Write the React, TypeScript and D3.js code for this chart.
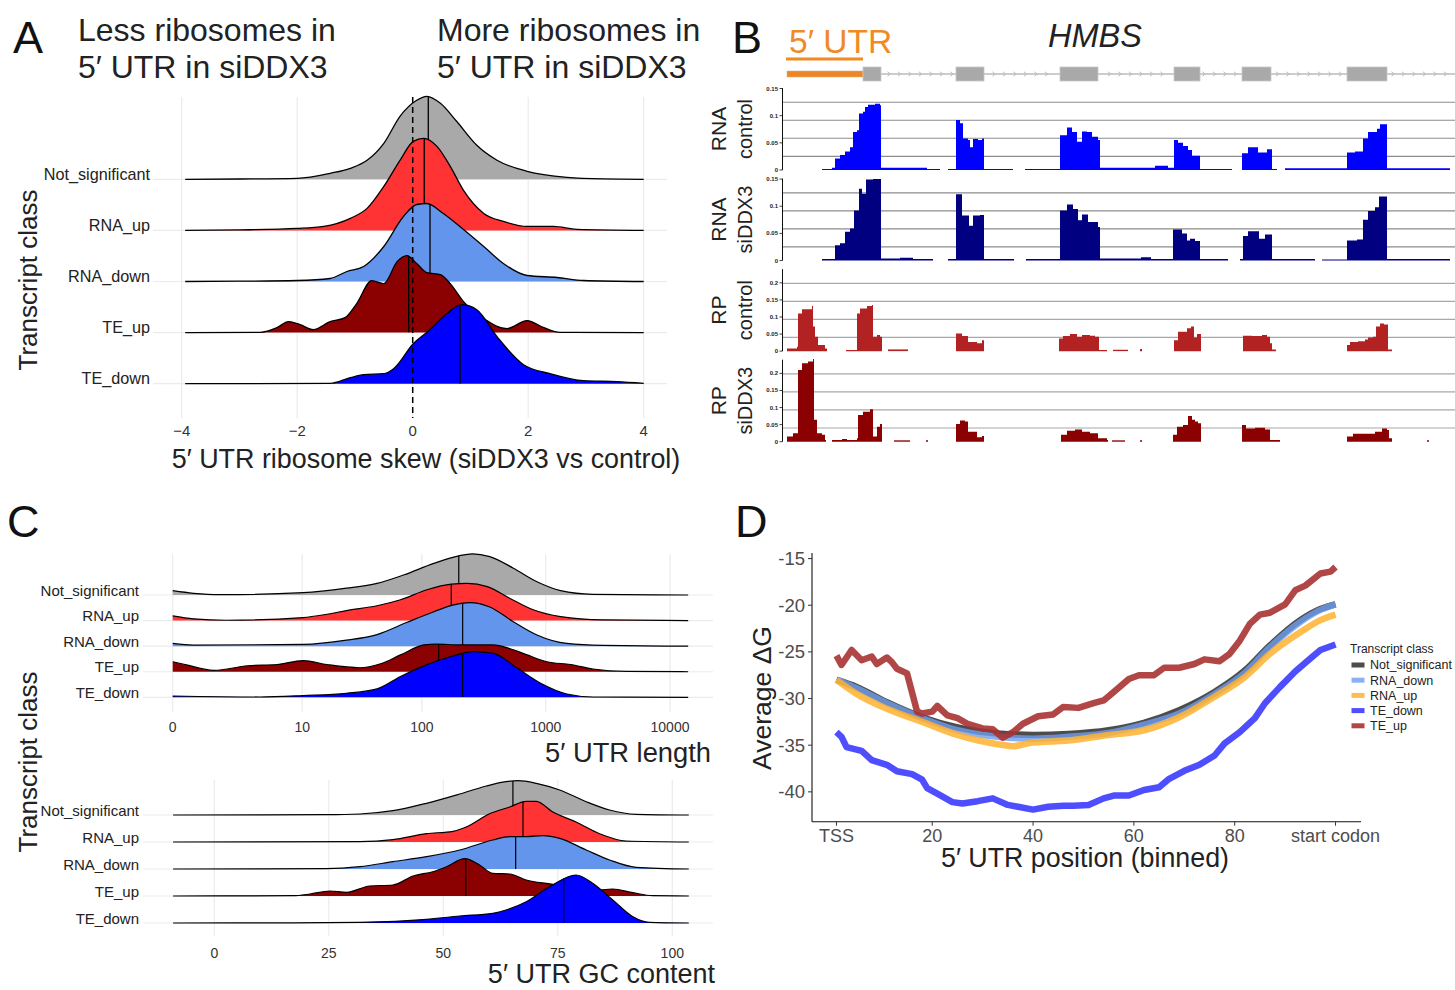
import React from "react";
import * as d3 from "d3";

type Pt = [number, number];
const FONT = "'Liberation Sans', Arial, Helvetica, sans-serif";

const CLASSES = ["Not_significant", "RNA_up", "RNA_down", "TE_up", "TE_down"];
const RIDGE_FILL = ["#A9A9A9", "#FF3333", "#6495ED", "#8B0000", "#0000FF"];

// ---------------- Panel A: 5' UTR ribosome skew densities ----------------
const skewTicks = [-4, -2, 0, 2, 4];
const skewNotSig: Pt[] = [[-3.94,0],[-3,0.003],[-2,0.01],[-1.43,0.06],[-1.08,0.11],[-0.79,0.19],[-0.5,0.36],[-0.22,0.63],[0.07,0.79],[0.245,0.83],[0.48,0.76],[0.76,0.58],[1.11,0.34],[1.46,0.19],[1.98,0.08],[2.67,0.02],[3.3,0.004],[4,0]];
const skewRnaUp: Pt[] = [[-3.94,0],[-3,0.005],[-2,0.02],[-1.54,0.04],[-1.08,0.12],[-0.79,0.22],[-0.5,0.44],[-0.22,0.7],[0.01,0.89],[0.19,0.92],[0.42,0.84],[0.65,0.64],[0.88,0.4],[1.23,0.17],[1.57,0.09],[1.98,0.04],[2.44,0.04],[2.84,0.01],[4,0]];
const skewRnaDown: Pt[] = [[-3.94,0],[-3,0.003],[-2,0.01],[-1.43,0.03],[-1.14,0.1],[-0.85,0.15],[-0.5,0.35],[-0.16,0.65],[0.07,0.77],[0.245,0.78],[0.53,0.68],[0.88,0.52],[1.23,0.35],[1.57,0.18],[1.98,0.06],[2.5,0.04],[2.96,0.01],[4,0]];
const skewTeUp: Pt[] = [[-3.94,0],[-2.64,0.003],[-2.35,0.05],[-2.15,0.11],[-1.95,0.08],[-1.72,0.03],[-1.43,0.11],[-1.17,0.15],[-0.97,0.29],[-0.71,0.52],[-0.5,0.49],[-0.27,0.71],[-0.1,0.77],[0.07,0.69],[0.245,0.6],[0.48,0.58],[0.65,0.49],[0.88,0.31],[1.23,0.14],[1.63,0.04],[1.98,0.12],[2.27,0.05],[2.55,0.003],[4,0]];
const skewTeDown: Pt[] = [[-3.94,0],[-1.43,0.003],[-1.08,0.06],[-0.85,0.09],[-0.5,0.1],[-0.33,0.15],[0.01,0.4],[0.3,0.54],[0.59,0.7],[0.85,0.79],[1.11,0.74],[1.46,0.47],[1.92,0.19],[2.38,0.1],[2.96,0.03],[3.54,0.02],[4,0.003]];
const skewMedians = [0.27, 0.2, 0.3, -0.07, 0.82];

// ---------------- Panel C top: 5' UTR length densities ----------------
const lengthTicks = [0, 10, 100, 1000, 10000];
const lenNotSig: Pt[] = [[0,0.108],[0.47,0.043],[1.4,0.008],[10.2,0.058],[24,0.17],[43,0.29],[71,0.5],[125,0.79],[199,0.98],[256,1.03],[354,0.96],[549,0.67],[850,0.33],[1317,0.11],[2398,0.018],[14000,0]];
const lenRnaUp: Pt[] = [[0,0.118],[0.47,0.043],[1.69,0.008],[10.2,0.075],[16.4,0.158],[24,0.25],[43,0.37],[67,0.52],[110,0.77],[173,0.91],[233,0.93],[338,0.85],[512,0.56],[793,0.27],[1317,0.1],[2883,0.018],[14000,0]];
const lenRnaDown: Pt[] = [[0,0.068],[0.47,0.025],[10.2,0.043],[24,0.15],[43,0.29],[75,0.59],[125,0.86],[181,1.03],[245,1.09],[354,0.98],[549,0.61],[850,0.28],[1478,0.068],[2883,0.018],[14000,0]];
const lenTeUp: Pt[] = [[0,0.25],[0.29,0.17],[1.14,0.033],[3,0.15],[5.9,0.18],[10.2,0.28],[16.4,0.18],[31,0.1],[46,0.2],[67,0.42],[104,0.67],[131,0.69],[203,0.67],[379,0.67],[512,0.58],[707,0.42],[1022,0.25],[1584,0.18],[2398,0.068],[4466,0.008],[14000,0]];
const lenTeDown: Pt[] = [[0,0.033],[4,0.008],[10.2,0.043],[24,0.1],[43,0.21],[67,0.52],[109,0.81],[173,1.02],[262,1.14],[379,1.1],[588,0.73],[911,0.35],[1478,0.083],[2398,0.008],[14000,0]];
const lenMedians = [199, 173, 214, 137, 214];

// ---------------- Panel C bottom: 5' UTR GC content densities ----------------
const gcTicks = [0, 25, 50, 75, 100];
const gcNotSig: Pt[] = [[-9,0],[24.5,0.0003],[31.8,0.001],[39,0.0043],[46.3,0.0117],[53.6,0.021],[59.4,0.029],[63.7,0.0333],[66.3,0.0343],[70.3,0.0317],[75.4,0.025],[81.2,0.0133],[86.3,0.005],[92.1,0.0007],[103.6,0]];
const gcRnaUp: Pt[] = [[-9,0],[31.8,0.0003],[39,0.0023],[46.3,0.0083],[52.1,0.0107],[55,0.015],[60.1,0.0283],[64.5,0.035],[68.1,0.0407],[70.3,0.0407],[73.9,0.03],[79,0.02],[84.1,0.0083],[89.9,0.001],[103.6,0]];
const gcRnaDown: Pt[] = [[-9,0],[24.5,0.0003],[31.8,0.0023],[39,0.0073],[46.3,0.0123],[53.6,0.019],[60.8,0.029],[64.5,0.0323],[68.1,0.0323],[71.7,0.0333],[75.4,0.0307],[81.2,0.019],[86.3,0.009],[92.1,0.0017],[103.6,0]];
const gcTeUp: Pt[] = [[-9,0],[17.2,0.0003],[20.9,0.002],[25.2,0.005],[28.9,0.0037],[33.9,0.01],[39,0.011],[43.4,0.02],[47.7,0.0243],[50.7,0.0293],[54.7,0.0373],[57.9,0.031],[60.8,0.0227],[64.5,0.022],[68.1,0.016],[73.9,0.0117],[79,0.0067],[82.6,0.0053],[87,0.007],[91.4,0.0033],[95.7,0.0003],[103.6,0]];
const gcTeDown: Pt[] = [[-9,0],[17.2,0.0001],[31.8,0.0007],[46.3,0.0037],[53.6,0.007],[60.8,0.0097],[63.7,0.013],[68.1,0.0213],[73.2,0.0363],[79,0.048],[82.6,0.0397],[87,0.023],[91.4,0.0063],[95,0.0007],[103.6,0]];
const gcMedians = [65.2, 67.4, 65.8, 54.9, 76.3];

// ---------------- Panel D: average dG along 5' UTR ----------------
const dgClasses = ["Not_significant", "RNA_down", "RNA_up", "TE_down", "TE_up"];
const dgColors = ["#333333", "#6f9ef0", "#ffb22e", "#3b3bff", "#a83232"];
const dgOpacity = [0.88, 0.8, 0.85, 0.9, 0.9];
const dgTicksY = [-15, -20, -25, -30, -35, -40];
const dgTicksX = [1, 20, 40, 60, 80, 100];
const dgTickLabelsX = ["TSS", "20", "40", "60", "80", "start codon"];
const dgNotSig: Pt[] = [[1,-28.0],[5,-28.75],[11,-30.4],[18,-32],[25,-33.1],[33,-33.75],[40,-33.9],[47,-33.8],[55,-33.4],[62,-32.6],[69,-31.25],[76,-29.3],[82,-27],[87,-24.3],[93,-21.6],[97,-20.4],[100,-19.9]];
const dgRnaDown: Pt[] = [[1,-27.95],[5,-28.9],[11,-30.5],[18,-32.1],[25,-33.4],[33,-34.1],[40,-34.3],[47,-34.1],[55,-33.7],[62,-32.8],[69,-31.6],[76,-29.5],[82,-27.25],[87,-24.5],[93,-21.8],[97,-20.5],[100,-19.9]];
const dgRnaUp: Pt[] = [[1,-28.0],[5,-29.5],[11,-31.1],[18,-32.5],[25,-33.9],[33,-34.9],[36,-35.1],[40,-34.7],[47,-34.5],[55,-33.9],[62,-33.4],[69,-32],[76,-29.8],[82,-27.7],[87,-25.2],[93,-22.9],[97,-21.6],[100,-21]];
const dgTeDown: Pt[] = [[1,-33.6],[2,-34.1],[3,-35.2],[6,-35.6],[8,-36.6],[11,-37.1],[13,-37.8],[16,-38.1],[18,-38.7],[19,-39.6],[21,-40.2],[24,-41.1],[26,-41.25],[29,-41.0],[32,-40.7],[35,-41.4],[37,-41.6],[40,-41.9],[43,-41.6],[46,-41.5],[48,-41.5],[51,-41.4],[54,-40.7],[56,-40.4],[59,-40.4],[62,-39.8],[65,-39.5],[67,-38.6],[70,-37.75],[73,-37.1],[76,-36.1],[78,-34.8],[81,-33.6],[84,-32.1],[86,-30.5],[89,-28.75],[92,-27.1],[95,-25.7],[97,-24.8],[100,-24.2]];
const dgTeUp: Pt[] = [[1,-25.4],[2,-26.4],[4,-24.8],[6,-25.9],[8,-25.5],[9,-26.3],[11,-25.6],[12,-26.1],[13,-26.8],[15,-27.3],[17,-31.4],[18,-31.6],[20,-31.4],[21,-30.8],[23,-31.8],[25,-32.1],[27,-32.7],[30,-33.2],[32,-33.3],[34,-34.2],[36,-33.6],[38,-32.7],[41,-31.9],[44,-31.7],[46,-30.9],[49,-31.0],[52,-30.5],[54,-30.2],[56,-29.3],[59,-27.9],[61,-27.5],[64,-27.5],[66,-26.7],[69,-26.7],[72,-26.3],[74,-25.8],[77,-26.0],[79,-25.2],[81,-23.8],[83,-22.0],[85,-21.0],[87,-20.8],[90,-19.9],[92,-18.4],[94,-17.9],[97,-16.6],[99,-16.4],[100,-15.9]];

// ---------------- Panel B: HMBS genome browser ----------------
const utrSpan: Pt = [4, 80];
const exons: Pt[] = [[80,98],[173,201],[277,315],[391,417],[459,488],[564,604]];
const trackTitles = [["RNA", "control"], ["RNA", "siDDX3"], ["RP", "control"], ["RP", "siDDX3"]];
const trackColors = ["#0000FF", "#000080", "#B22222", "#8B0000"];
const rnaTicks = [0, 0.05, 0.1, 0.15];
const rpTicks = [0, 0.05, 0.1, 0.15, 0.2];
const rnaControlCov: Pt[][] = [
  [[39,0.002],[49,0.004],[52,0.021],[57,0.0275],[62,0.034],[67,0.042],[70,0.07],[74,0.073],[76,0.104],[80,0.107],[82,0.116],[85,0.12],[92,0.122],[97,0.119],[98,0.004],[144,0.002],[157,0]],
  [[165,0.002],[173,0.092],[177,0.086],[180,0.058],[185,0.055],[187,0.042],[190,0.057],[195,0.055],[199,0.058],[201,0.002],[230,0]],
  [[242,0.002],[277,0.064],[284,0.078],[289,0.07],[294,0.052],[299,0.071],[304,0.07],[309,0.061],[315,0.055],[317,0.004],[372,0.008],[385,0.004],[391,0.055],[395,0.05],[400,0.044],[405,0.037],[409,0.026],[417,0.002],[449,0]],
  [[459,0.031],[465,0.042],[475,0.032],[484,0.038],[489,0.002],[494,0]],
  [[502,0.003],[564,0.032],[572,0.034],[580,0.058],[585,0.07],[594,0.076],[597,0.084],[604,0.003],[667,0]],
];
const rnaSiCov: Pt[][] = [
  [[39,0.003],[52,0.028],[57,0.032],[62,0.053],[67,0.059],[71,0.092],[76,0.132],[79,0.123],[83,0.149],[90,0.15],[97,0.15],[98,0.004],[117,0.005],[130,0.003],[150,0]],
  [[165,0.003],[173,0.122],[179,0.083],[186,0.064],[190,0.083],[197,0.084],[201,0.003],[231,0]],
  [[243,0.003],[277,0.092],[284,0.103],[290,0.095],[295,0.074],[299,0.085],[305,0.071],[315,0.062],[317,0.004],[358,0.006],[368,0.003],[390,0.057],[399,0.05],[404,0.037],[407,0.04],[412,0.036],[417,0.003],[445,0]],
  [[457,0.003],[460,0.045],[465,0.054],[476,0.04],[482,0.048],[489,0.003],[532,0]],
  [[539,0.002],[564,0.037],[574,0.039],[580,0.075],[585,0.091],[592,0.098],[596,0.118],[604,0.003],[667,0]],
];
const rpControlCov: Pt[][] = [
  [[4,0.008],[14,0.013],[15,0.11],[19,0.123],[24,0.123],[29,0.132],[30,0.072],[32,0.042],[35,0.018],[42,0.008],[44,0]],
  [[63,0.003],[74,0.11],[77,0.125],[84,0.132],[89,0.135],[90,0.042],[94,0.047],[97,0.042],[99,0]],
  [[105,0.005],[125,0]],
  [[173,0.052],[179,0.044],[185,0.027],[194,0.023],[199,0.032],[201,0]],
  [[276,0.037],[280,0.044],[287,0.05],[294,0.042],[299,0.047],[307,0.045],[312,0.042],[316,0.003],[324,0]],
  [[330,0.004],[345,0]],
  [[357,0.006],[359,0]],
  [[391,0.032],[395,0.057],[404,0.067],[408,0.072],[411,0.04],[414,0.05],[418,0]],
  [[460,0.045],[469,0.044],[479,0.047],[484,0.042],[487,0.023],[489,0.005],[493,0]],
  [[564,0.018],[567,0.027],[575,0.029],[582,0.034],[585,0.04],[590,0.042],[593,0.072],[597,0.081],[601,0.078],[605,0.005],[609,0]],
];
const rpSiCov: Pt[][] = [
  [[4,0.015],[10,0.025],[15,0.21],[19,0.23],[25,0.235],[30,0.242],[31,0.064],[34,0.025],[39,0.02],[42,0.005],[43,0]],
  [[49,0.005],[59,0.008],[64,0.005],[74,0.01],[75,0.078],[80,0.088],[87,0.095],[90,0.015],[94,0.044],[97,0.052],[99,0]],
  [[111,0.004],[127,0]],
  [[143,0.004],[145,0]],
  [[173,0.052],[177,0.062],[182,0.059],[185,0.029],[194,0.013],[199,0.017],[201,0]],
  [[278,0.02],[284,0.032],[292,0.036],[299,0.029],[307,0.025],[315,0.01],[324,0.005],[325,0]],
  [[329,0.004],[342,0]],
  [[357,0.004],[359,0]],
  [[390,0.02],[394,0.044],[400,0.049],[405,0.075],[409,0.064],[412,0.059],[415,0.054],[418,0]],
  [[459,0.049],[463,0.039],[472,0.041],[482,0.036],[487,0.005],[497,0]],
  [[564,0.015],[570,0.023],[579,0.023],[585,0.023],[592,0.029],[599,0.039],[604,0.034],[606,0.01],[609,0]],
  [[644,0.004],[646,0]],
];

const fmtMinus = (v: number) => (v < 0 ? "\u2212" + Math.abs(v) : String(v));

function Ridges({ pid, series, medians, x, base, h, sw }: any) {
  return (
    <g>
      {CLASSES.map((c, i) => {
        const b = base(c);
        const pts: Pt[] = series[i];
        const area = d3.area<Pt>().x((d) => x(d[0])).y0(b).y1((d) => b - h(d[1])).curve(d3.curveMonotoneX);
        const line = d3.line<Pt>().x((d) => x(d[0])).y((d) => b - h(d[1])).curve(d3.curveMonotoneX);
        const a = area(pts) || "";
        const cid = `${pid}-clip-${i}`;
        const mx = x(medians[i]);
        return (
          <g key={c}>
            <defs>
              <clipPath id={cid}>
                <path d={a} />
              </clipPath>
            </defs>
            <path d={a} fill={RIDGE_FILL[i]} />
            <line x1={mx} x2={mx} y1={b} y2={b - 300} stroke="#000" strokeWidth={sw} clipPath={`url(#${cid})`} />
            <path d={line(pts) || ""} fill="none" stroke="#000" strokeWidth={sw} />
          </g>
        );
      })}
    </g>
  );
}

function PanelA() {
  const x = d3.scaleLinear().domain([-4, 4]).range([181.7, 643.7]);
  const base = d3.scalePoint<string>().domain(CLASSES).range([179.3, 383.7]);
  const h = d3.scaleLinear().domain([0, 1]).range([0, 100]);
  const series = [skewNotSig, skewRnaUp, skewRnaDown, skewTeUp, skewTeDown];
  return (
    <g fontFamily={FONT}>
      <text x={13} y={53} fontSize={45} fill="#111">A</text>
      <text x={78} y={41} fontSize={32} fill="#222">Less ribosomes in</text>
      <text x={78} y={78} fontSize={32} fill="#222">5′ UTR in siDDX3</text>
      <text x={437} y={41} fontSize={32} fill="#222">More ribosomes in</text>
      <text x={437} y={78} fontSize={32} fill="#222">5′ UTR in siDDX3</text>
      {skewTicks.map((t) => (
        <line key={t} x1={x(t)} x2={x(t)} y1={97} y2={418} stroke="#EBEBEB" strokeWidth={1.2} />
      ))}
      {CLASSES.map((c) => (
        <line key={c} x1={153} x2={667} y1={base(c)} y2={base(c)} stroke="#EBEBEB" strokeWidth={1.2} />
      ))}
      <Ridges pid="A" series={series} medians={skewMedians} x={x} base={base} h={h} sw={1.3} />
      <line x1={x(0)} x2={x(0)} y1={97} y2={418} stroke="#000" strokeWidth={1.5} strokeDasharray="6,4" />
      {skewTicks.map((t) => (
        <text key={t} x={x(t)} y={436} fontSize={15} textAnchor="middle" fill="#333">{fmtMinus(t)}</text>
      ))}
      {CLASSES.map((c) => (
        <text key={c} x={150} y={(base(c) as number) + 0.5} fontSize={16.2} textAnchor="end" fill="#222">{c}</text>
      ))}
      <text transform="translate(37,280) rotate(-90)" fontSize={26} textAnchor="middle" fill="#222">Transcript class</text>
      <text x={426} y={468} fontSize={26.9} textAnchor="middle" fill="#222">5′ UTR ribosome skew (siDDX3 vs control)</text>
    </g>
  );
}

function PanelC() {
  const xl = d3.scaleSymlog().constant(1).domain([0, 10000]).range([172.7, 670]);
  const baseT = d3.scalePoint<string>().domain(CLASSES).range([595, 697.3]);
  const hT = d3.scaleLinear().domain([0, 1]).range([0, 40]);
  const xg = d3.scaleLinear().domain([0, 100]).range([214.3, 672.3]);
  const baseB = d3.scalePoint<string>().domain(CLASSES).range([815, 923]);
  const hB = d3.scaleLinear().domain([0, 0.01]).range([0, 10]);
  return (
    <g fontFamily={FONT}>
      <text x={7} y={537} fontSize={45} fill="#111">C</text>
      {/* top */}
      {lengthTicks.map((t) => (
        <line key={t} x1={xl(t)} x2={xl(t)} y1={554} y2={712} stroke="#EBEBEB" strokeWidth={1.2} />
      ))}
      {CLASSES.map((c) => (
        <line key={c} x1={143} x2={713} y1={baseT(c)} y2={baseT(c)} stroke="#EBEBEB" strokeWidth={1.2} />
      ))}
      <Ridges pid="CT" series={[lenNotSig, lenRnaUp, lenRnaDown, lenTeUp, lenTeDown]} medians={lenMedians} x={xl} base={baseT} h={hT} sw={1.2} />
      {lengthTicks.map((t) => (
        <text key={t} x={xl(t)} y={732} fontSize={14} textAnchor="middle" fill="#333">{t}</text>
      ))}
      {CLASSES.map((c) => (
        <text key={c} x={139} y={(baseT(c) as number) + 0.5} fontSize={15} textAnchor="end" fill="#222">{c}</text>
      ))}
      <text x={711} y={762} fontSize={27.3} textAnchor="end" fill="#222">5′ UTR length</text>
      {/* bottom */}
      {gcTicks.map((t) => (
        <line key={t} x1={xg(t)} x2={xg(t)} y1={780} y2={936} stroke="#EBEBEB" strokeWidth={1.2} />
      ))}
      {CLASSES.map((c) => (
        <line key={c} x1={143} x2={713} y1={baseB(c)} y2={baseB(c)} stroke="#EBEBEB" strokeWidth={1.2} />
      ))}
      <Ridges pid="CB" series={[gcNotSig, gcRnaUp, gcRnaDown, gcTeUp, gcTeDown]} medians={gcMedians} x={xg} base={baseB} h={hB} sw={1.2} />
      {gcTicks.map((t) => (
        <text key={t} x={xg(t)} y={958} fontSize={14} textAnchor="middle" fill="#333">{t}</text>
      ))}
      {CLASSES.map((c) => (
        <text key={c} x={139} y={(baseB(c) as number) + 0.5} fontSize={15} textAnchor="end" fill="#222">{c}</text>
      ))}
      <text x={715} y={983} fontSize={27} textAnchor="end" fill="#222">5′ UTR GC content</text>
      <text transform="translate(37,762) rotate(-90)" fontSize={26} textAnchor="middle" fill="#222">Transcript class</text>
    </g>
  );
}

function PanelB() {
  const gx = d3.scaleLinear().domain([0, 672]).range([783, 1455]);
  const trackBase = d3.scaleLinear().domain([0, 3]).range([170, 441.7]);
  const rnaY = d3.scaleLinear().domain([0, 0.15]).range([0, 81.5]);
  const rpY = d3.scaleLinear().domain([0, 0.2]).range([0, 68.3]);
  const tracks = [
    { cov: rnaControlCov, ys: rnaY, ticks: rnaTicks },
    { cov: rnaSiCov, ys: rnaY, ticks: rnaTicks },
    { cov: rpControlCov, ys: rpY, ticks: rpTicks },
    { cov: rpSiCov, ys: rpY, ticks: rpTicks },
  ];
  const gridFrac = [0.167, 0.387, 0.607, 0.826];
  const geneY = 74;
  const intronStart = gx(exons[0][1]);
  const chevrons = d3.range(intronStart + 8, 1452, 10.5).filter(
    (px) => !exons.some((e) => px > gx(e[0]) - 4 && px < gx(e[1]) + 4)
  );
  return (
    <g fontFamily={FONT}>
      <text x={732} y={53} fontSize={45} fill="#111">B</text>
      <text x={789} y={53} fontSize={33.5} fill="#F08A24">5′ UTR</text>
      <line x1={gx(utrSpan[0]) - 1} x2={gx(utrSpan[1])} y1={59} y2={59} stroke="#F08A24" strokeWidth={3} />
      <text x={1095} y={47} fontSize={32.5} fontStyle="italic" textAnchor="middle" fill="#222">HMBS</text>
      {/* gene model */}
      <line x1={intronStart} x2={1455} y1={geneY} y2={geneY} stroke="#BBBBBB" strokeWidth={1.5} />
      {chevrons.map((px, i) => (
        <path key={i} d={`M${px - 1.5},${geneY - 2.2} L${px + 1.2},${geneY} L${px - 1.5},${geneY + 2.2}`} fill="none" stroke="#BBBBBB" strokeWidth={1} />
      ))}
      <rect x={gx(utrSpan[0])} y={71} width={gx(utrSpan[1]) - gx(utrSpan[0])} height={6} fill="#F08526" stroke="#D0B090" strokeWidth={0.5} />
      {exons.map((e, i) => (
        <rect key={i} x={gx(e[0])} y={67} width={gx(e[1]) - gx(e[0])} height={14} fill="#A9A9A9" stroke="#C8C8C8" strokeWidth={0.8} />
      ))}
      {tracks.map((t, k) => {
        const b = trackBase(k);
        const top = b - 82;
        const area = d3.area<Pt>().x((d) => gx(d[0])).y0(b).y1((d) => b - t.ys(Math.max(d[1], 0.0015))).curve(d3.curveStepAfter);
        return (
          <g key={k}>
            {gridFrac.map((f, j) => (
              <line key={j} x1={783} x2={1455} y1={b - f * 82} y2={b - f * 82} stroke={k < 2 ? "#8C8C8C" : "#A8A8A8"} strokeWidth={1.2} />
            ))}
            {t.cov.map((seg, j) => (
              <path key={j} d={area(seg) || ""} fill={trackColors[k]} />
            ))}
            <line x1={782.5} x2={782.5} y1={top} y2={b} stroke="#111" strokeWidth={1} />
            {t.ticks.map((v) => (
              <g key={v}>
                <line x1={779.5} x2={782.5} y1={b - t.ys(v)} y2={b - t.ys(v)} stroke="#111" strokeWidth={0.8} />
                <text x={778} y={b - t.ys(v) + 2} fontSize={6} fontWeight="bold" textAnchor="end" fill="#222">{v}</text>
              </g>
            ))}
            <text transform={`translate(718,${b - 41}) rotate(-90)`} fontSize={21} textAnchor="middle" dominantBaseline="central" fill="#222">{trackTitles[k][0]}</text>
            <text transform={`translate(745,${b - 41}) rotate(-90)`} fontSize={20} textAnchor="middle" dominantBaseline="central" fill="#222">{trackTitles[k][1]}</text>
          </g>
        );
      })}
    </g>
  );
}

function PanelD() {
  const x = d3.scaleLinear().domain([-3.85, 105.05]).range([812, 1361]);
  const y = d3.scaleLinear().domain([-43.2, -14.4]).range([821.7, 553]);
  const series = [dgNotSig, dgRnaDown, dgRnaUp, dgTeDown, dgTeUp];
  const smooth = [true, true, true, false, false];
  return (
    <g fontFamily={FONT}>
      <text x={735} y={537} fontSize={45} fill="#111">D</text>
      {series.map((s, i) => {
        const line = d3.line<Pt>().x((d) => x(d[0])).y((d) => y(d[1])).curve(smooth[i] ? d3.curveMonotoneX : d3.curveLinear);
        return (
          <path key={i} d={line(s) || ""} fill="none" stroke={dgColors[i]} strokeOpacity={dgOpacity[i]} strokeWidth={6.5} strokeLinejoin="round" />
        );
      })}
      <line x1={812} x2={812} y1={553} y2={821.7} stroke="#111" strokeWidth={1.1} />
      <line x1={812} x2={1361} y1={821.7} y2={821.7} stroke="#111" strokeWidth={1.1} />
      {dgTicksY.map((t) => (
        <g key={t}>
          <line x1={808} x2={812} y1={y(t)} y2={y(t)} stroke="#333" strokeWidth={1} />
          <text x={805} y={y(t) + 6.5} fontSize={18.5} textAnchor="end" fill="#4D4D4D">{t}</text>
        </g>
      ))}
      {dgTicksX.map((t, i) => (
        <g key={t}>
          <line x1={x(t)} x2={x(t)} y1={821.7} y2={825.7} stroke="#333" strokeWidth={1} />
          <text x={x(t)} y={841.5} fontSize={18} textAnchor="middle" fill="#4D4D4D">{dgTickLabelsX[i]}</text>
        </g>
      ))}
      <text transform="translate(771,698) rotate(-90)" fontSize={26.5} textAnchor="middle" fill="#222">Average ΔG</text>
      <text x={1085} y={867} fontSize={26.8} textAnchor="middle" fill="#222">5′ UTR position (binned)</text>
      <text x={1350} y={653} fontSize={12} fill="#222">Transcript class</text>
      {dgClasses.map((c, i) => {
        const cy = 665 + i * 15.2;
        return (
          <g key={c}>
            <rect x={1351.5} y={cy - 2.5} width={13} height={5} fill={dgColors[i]} fillOpacity={dgOpacity[i]} />
            <text x={1370} y={cy + 4.3} fontSize={12.5} fill="#222">{c}</text>
          </g>
        );
      })}
    </g>
  );
}

export default function App() {
  return (
    <svg width={1455} height={990} viewBox="0 0 1455 990" style={{ position: "absolute", left: 0, top: 0, display: "block" }}>
      <rect width={1455} height={990} fill="#fff" />
      <PanelA />
      <PanelB />
      <PanelC />
      <PanelD />
    </svg>
  );
}
